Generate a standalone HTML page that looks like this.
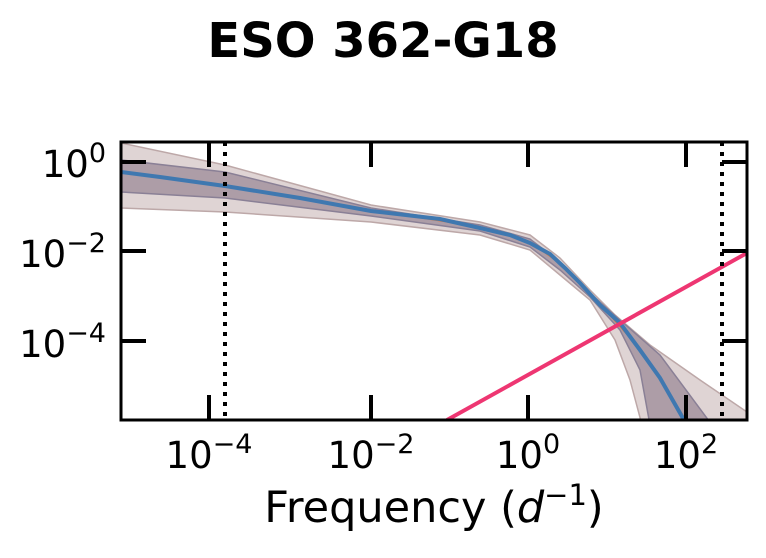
<!DOCTYPE html>
<html><head><meta charset="utf-8"><style>
body{margin:0;background:#fff;width:766px;height:553px;overflow:hidden}
text{font-family:"DejaVu Sans","Liberation Sans",sans-serif;fill:#000}
.t{font-size:48px}
.l{font-size:37px}
.s{font-size:27px}
.x{font-size:43px}
.xs{font-size:29px}
</style></head><body>
<svg width="766" height="553" viewBox="0 0 766 553">
<text x="383" y="57" class="t" font-weight="bold" text-anchor="middle">ESO 362-G18</text>
<defs><clipPath id="c"><rect x="121" y="142" width="626" height="278"/></clipPath></defs>
<g clip-path="url(#c)">
<polygon fill="#d9cccc" fill-opacity="0.85" stroke="#bda8a8" stroke-width="1.5" points="121,143 225,165 371,205 480,222 530,235 560,258 590,290 615,315 650,345 700,380 747,412 747,425 642,425 630,380 615,340 590,300 560,275 530,250 480,235 371,222 225,212 121,208"/>
<polygon fill="#a797a2" fill-opacity="0.9" stroke="#8a8096" stroke-width="1.5" points="121,160 225,172 371,208 480,225 530,239 560,262 590,293 620,320 660,355 712,425 650,425 640,370 620,330 590,297 560,270 530,247 480,231 371,216 225,198 121,192"/>
<polyline fill="none" stroke="#e07b39" stroke-width="1.5" points="121,171 225,185 371,210 480,227 530,242 565,267 600,304 640,349 686,420"/>
<polyline fill="none" stroke="#3f78b0" stroke-width="4" points="121,172 160,177 225,186 300,198 371,211 440,219 480,228 510,235 530,243 550,254 565,268 580,283 600,305 620,323 640,350 660,378 684,420"/>
<line x1="447" y1="420" x2="747" y2="253" stroke="#ee3672" stroke-width="4"/>
<line x1="225" y1="142" x2="225" y2="420" stroke="#000" stroke-width="4" stroke-dasharray="4,6"/>
<line x1="722" y1="142" x2="722" y2="420" stroke="#000" stroke-width="4" stroke-dasharray="4,6"/>
</g>
<rect x="121" y="142" width="626" height="278" fill="none" stroke="#000" stroke-width="3"/>
<g stroke="#000" stroke-width="4">
<line x1="209" y1="142" x2="209" y2="167"/><line x1="371" y1="142" x2="371" y2="167"/><line x1="528" y1="142" x2="528" y2="167"/><line x1="686" y1="142" x2="686" y2="167"/>
<line x1="209" y1="420" x2="209" y2="395"/><line x1="371" y1="420" x2="371" y2="395"/><line x1="528" y1="420" x2="528" y2="395"/><line x1="686" y1="420" x2="686" y2="395"/>
<line x1="121" y1="162" x2="146" y2="162"/><line x1="121" y1="251" x2="146" y2="251"/><line x1="121" y1="341" x2="146" y2="341"/>
<line x1="747" y1="162" x2="722" y2="162"/><line x1="747" y1="251" x2="722" y2="251"/><line x1="747" y1="341" x2="722" y2="341"/>
</g>
<g class="l">
<text x="106" y="177" text-anchor="end">10<tspan dy="-15" class="s">0</tspan></text>
<text x="106" y="267" text-anchor="end">10<tspan dy="-15" class="s">−2</tspan></text>
<text x="106" y="357" text-anchor="end">10<tspan dy="-15" class="s">−4</tspan></text>
<text x="209" y="468" text-anchor="middle">10<tspan dy="-15" class="s">−4</tspan></text>
<text x="371" y="468" text-anchor="middle">10<tspan dy="-15" class="s">−2</tspan></text>
<text x="528" y="468" text-anchor="middle">10<tspan dy="-15" class="s">0</tspan></text>
<text x="686" y="468" text-anchor="middle">10<tspan dy="-15" class="s">2</tspan></text>
</g>
<text x="434" y="522" class="x" text-anchor="middle">Frequency (<tspan font-style="italic">d</tspan><tspan dy="-17" class="xs">−1</tspan><tspan dy="17">)</tspan></text>
</svg>
</body></html>
